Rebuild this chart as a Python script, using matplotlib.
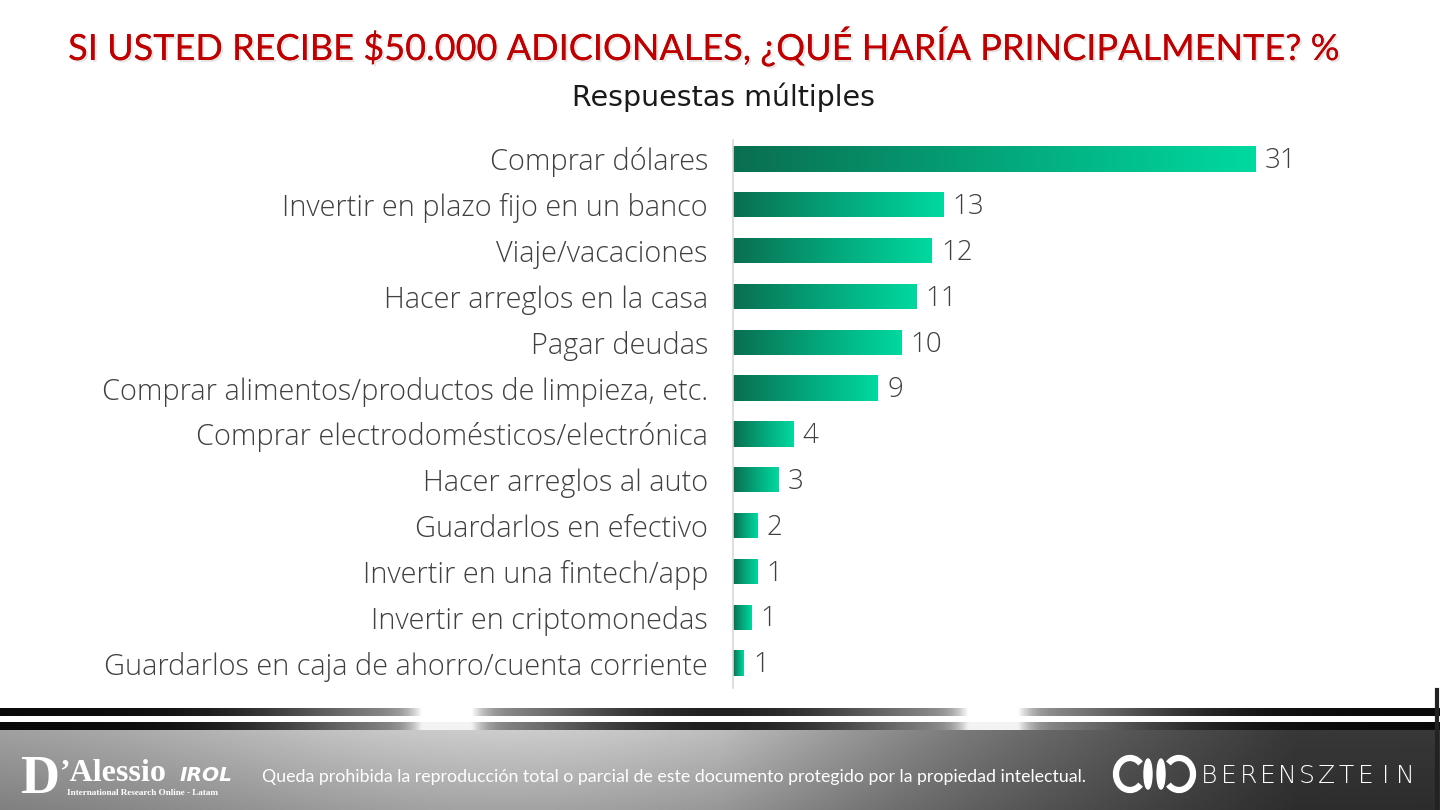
import numpy as np
import matplotlib.pyplot as plt
import matplotlib.patheffects as pe
from matplotlib.colors import LinearSegmentedColormap
from matplotlib.patches import Ellipse, Arc

categories = [
    "Comprar dólares",
    "Invertir en plazo fijo en un banco",
    "Viaje/vacaciones",
    "Hacer arreglos en la casa",
    "Pagar deudas",
    "Comprar alimentos/productos de limpieza, etc.",
    "Comprar electrodomésticos/electrónica",
    "Hacer arreglos al auto",
    "Guardarlos en efectivo",
    "Invertir en una fintech/app",
    "Invertir en criptomonedas",
    "Guardarlos en caja de ahorro/cuenta corriente",
]
# bar lengths, labels as printed
values = [31.0, 12.5, 11.8, 10.9, 10.0, 8.6, 3.6, 2.7, 1.45, 1.45, 1.1, 0.65]
labels = ["31", "13", "12", "11", "10", "9", "4", "3", "2", "1", "1", "1"]

title = "SI USTED RECIBE $50.000 ADICIONALES, ¿QUÉ HARÍA PRINCIPALMENTE? %"
subtitle = "Respuestas múltiples"
footer_note = ("Queda prohibida la reproducción total o parcial de este documento "
               "protegido por la propiedad intelectual.")
brand = "BERENSZTEIN"

W, H = 1440, 810
fig = plt.figure(figsize=(14.4, 8.1), dpi=100)
fig.patch.set_facecolor("white")

# background / footer layer in pixel coords
bg = fig.add_axes([0, 0, 1, 1], zorder=0)
bg.set_xlim(0, W)
bg.set_ylim(H, 0)
bg.axis("off")

xs = np.linspace(0, 1, 800)
gray = LinearSegmentedColormap.from_list("g", ["#000000", "#ffffff"])


def bump(c, s):
    return np.exp(-((xs - c) / s) ** 2)


# two dark stripes with soft glow and two bright flares
stripe = np.clip(0.04 + 0.55 * (bump(0.31, 0.12) + bump(0.69, 0.12))
                 + 0.9 * (bump(0.31, 0.02) + bump(0.69, 0.02)), 0, 1)
bg.imshow(stripe[None, :], extent=[0, W, 716, 708], cmap=gray, vmin=0, vmax=1,
          aspect="auto", zorder=1)
bg.imshow(np.clip(stripe * 0.95, 0, 1)[None, :], extent=[0, W, 730, 722], cmap=gray,
          vmin=0, vmax=1, aspect="auto", zorder=1)

# brushed metal panel
hx = 0.6 + 0.2 * bump(0.35, 0.25) - 0.38 * np.clip((xs - 0.5) / 0.4, 0, 1)
ys = np.linspace(0, 1, 80)
vy = 1.0 - 0.2 * ys
panel = np.clip(np.outer(vy, hx), 0, 1)
bg.imshow(panel, extent=[0, W, 810, 730], cmap=gray, vmin=0, vmax=1,
          aspect="auto", zorder=1)
bg.plot([1437, 1437], [690, 810], color="#222222", lw=3, zorder=2)

# D'Alessio IROL logo
bg.text(20, 793, "D", color="white", fontsize=39, fontweight="bold",
        family="Liberation Serif", ha="left", va="baseline", zorder=3)
bg.text(59, 781, "’Alessio", color="white", fontsize=23, fontweight="bold",
        family="Liberation Serif", ha="left", va="baseline", zorder=3)
bg.text(180, 781, "IROL", color="white", fontsize=14.5, fontweight="bold",
        style="italic", family="DejaVu Sans", ha="left", va="baseline", zorder=3)
bg.text(67, 793, "International Research Online - Latam", color="white",
        fontsize=6.6, fontweight="bold", family="Liberation Serif",
        ha="left", va="center", zorder=3)

bg.text(262, 777, footer_note, color="white", fontsize=12.8, family="Lato",
        ha="left", va="center", zorder=3)

# Berensztein logo
bg.add_patch(Arc((1130, 774), 28, 32, theta1=45, theta2=315, color="white",
                 lw=4.5, zorder=3))
bg.add_patch(Ellipse((1148, 774), 8, 30, color="white", zorder=3))
bg.add_patch(Ellipse((1161, 774), 8, 30, color="white", zorder=3))
bg.add_patch(Arc((1179, 774), 28, 32, theta1=-135, theta2=135, color="white",
                 lw=4.5, zorder=3))
for i, ch in enumerate(brand):
    bg.text(1209 + i * 19.6, 776, ch, color="white", fontsize=18,
            family="DejaVu Sans", fontweight="light",
            ha="center", va="center", zorder=3)

# titles
fig.text(703 / W, 1 - 46 / H, title, color="#c00000", fontsize=26, family="Lato",
         ha="center", va="center",
         path_effects=[pe.withSimplePatchShadow(offset=(1.5, -1.5),
                                                shadow_rgbFace="#aaaaaa",
                                                alpha=0.3), pe.Normal()])
fig.text(723 / W, 1 - 97 / H, subtitle, color="#1a1a1a", fontsize=20.5,
         family="DejaVu Sans", ha="center", va="center")

# main bar chart
ax = fig.add_axes([733 / W, 1 - 688 / H, 570 / W, 548 / H], zorder=2)
ax.patch.set_alpha(0)
y = np.arange(len(categories))
bars = ax.barh(y, values, height=0.55, color="none", edgecolor="none")
cmap = LinearSegmentedColormap.from_list("bar", ["#0a6e50", "#04a67a", "#00d9a0"])
grad = np.linspace(0, 1, 256)[None, :]
for b in bars:
    x0, y0 = b.get_x(), b.get_y()
    w, h = b.get_width(), b.get_height()
    im = ax.imshow(grad, extent=[x0, x0 + w, y0 + h, y0], cmap=cmap,
                   aspect="auto", zorder=2)
    im.set_clip_path(b)

for yi, v, lab in zip(y, values, labels):
    ax.text(v + 0.55, yi + 0.05, lab, color="#404040", fontsize=20,
            family="Open Sans", fontweight="light", ha="left", va="center")

ax.set_xlim(0, 570 / 16.84)
ax.set_ylim(11 + 25 / 45.82, -19 / 45.82)
ax.set_yticks(y)
ax.set_yticklabels(categories, fontsize=20.8, family="Open Sans",
                   fontweight="light", color="#404040")
ax.tick_params(axis="y", length=0, pad=18)
ax.set_xticks([])
for s in ["top", "right", "bottom"]:
    ax.spines[s].set_visible(False)
ax.spines["left"].set_color("#d9d9d9")
ax.spines["left"].set_linewidth(1.2)

fig.savefig("out.png", dpi=100)
